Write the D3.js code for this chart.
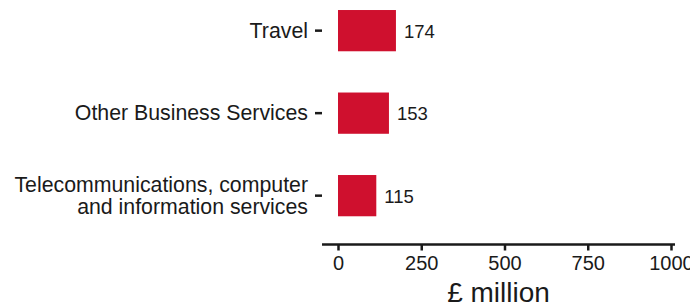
<!DOCTYPE html>
<html>
<head>
<meta charset="utf-8">
<script src="https://cdn.jsdelivr.net/npm/d3@7"></script>
<style>
  body { margin: 0; background: #fff; }
  svg { display: block; font-family: "Liberation Sans", Arial, sans-serif; }
</style>
</head>
<body>
<div class="canvas"></div>
<script>
// data
const categories = ['Travel', 'Other Business Services', 'Telecommunications, computer\nand information services'];
const values = [174, 153, 115];
const xTicks = [0, 250, 500, 750, 1000];
const xTitle = '£ million';

const dims = {width: 690, height: 307};
const barColour = '#CF102E';
const ink = '#1a1a1a';

const svg = d3.select('.canvas')
    .append('svg')
    .attr('width', dims.width)
    .attr('height', dims.height);

// scales
const x = d3.scaleLinear().domain([0, 1000]).range([338, 671]);
const y = d3.scaleBand()
    .domain(categories)
    .range([-10.6, 236.9])
    .paddingInner(0.5)
    .paddingOuter(0.25);

const graph = svg.append('g');

// bars
graph.selectAll('rect')
    .data(values)
    .enter()
    .append('rect')
    .attr('x', x(0))
    .attr('y', (d, i) => y(categories[i]))
    .attr('width', d => x(d) - x(0))
    .attr('height', y.bandwidth())
    .attr('fill', barColour);

// value labels
graph.selectAll('text.val')
    .data(values)
    .enter()
    .append('text')
    .attr('class', 'val')
    .attr('x', d => x(d) + 8)
    .attr('y', (d, i) => y(categories[i]) + y.bandwidth() / 2 + 7)
    .attr('font-size', 18.5)
    .attr('fill', ink)
    .text(d => d);

// y axis: category labels + little ticks
const yAxis = svg.append('g');
categories.forEach(cat => {
    const cy = y(cat) + y.bandwidth() / 2;
    yAxis.append('line')
        .attr('x1', 315).attr('x2', 322)
        .attr('y1', cy).attr('y2', cy)
        .attr('stroke', ink)
        .attr('stroke-width', 2.5);
    const lines = cat.split('\n');
    const t = yAxis.append('text')
        .attr('text-anchor', 'end')
        .attr('font-size', 21.3)
        .attr('fill', ink);
    lines.forEach((ln, j) => {
        t.append('tspan')
            .attr('x', 308)
            .attr('y', cy + 7 - (lines.length - 1) * 11 + j * 22)
            .text(ln);
    });
});

// x axis
const axisY = 244.5;
const xAxisG = svg.append('g').attr('transform', `translate(0,${axisY})`);
xAxisG.append('line')
    .attr('x1', x(-48)).attr('x2', x(1012))
    .attr('stroke', ink)
    .attr('stroke-width', 2.5);

const xAxis = d3.axisBottom(x).tickValues(xTicks).tickFormat(d3.format('d')).tickSize(6).tickPadding(5);
xAxisG.call(xAxis);
xAxisG.select('.domain').remove();
xAxisG.selectAll('.tick line').attr('stroke', ink).attr('stroke-width', 2.5);
xAxisG.selectAll('.tick text')
    .attr('fill', ink)
    .attr('font-size', 20)
    .attr('font-family', '"Liberation Sans", Arial, sans-serif');

// axis title
svg.append('text')
    .attr('x', (x(-48) + x(1012)) / 2)
    .attr('y', 302)
    .attr('text-anchor', 'middle')
    .attr('font-size', 28)
    .attr('fill', ink)
    .text(xTitle);
</script>
</body>
</html>
